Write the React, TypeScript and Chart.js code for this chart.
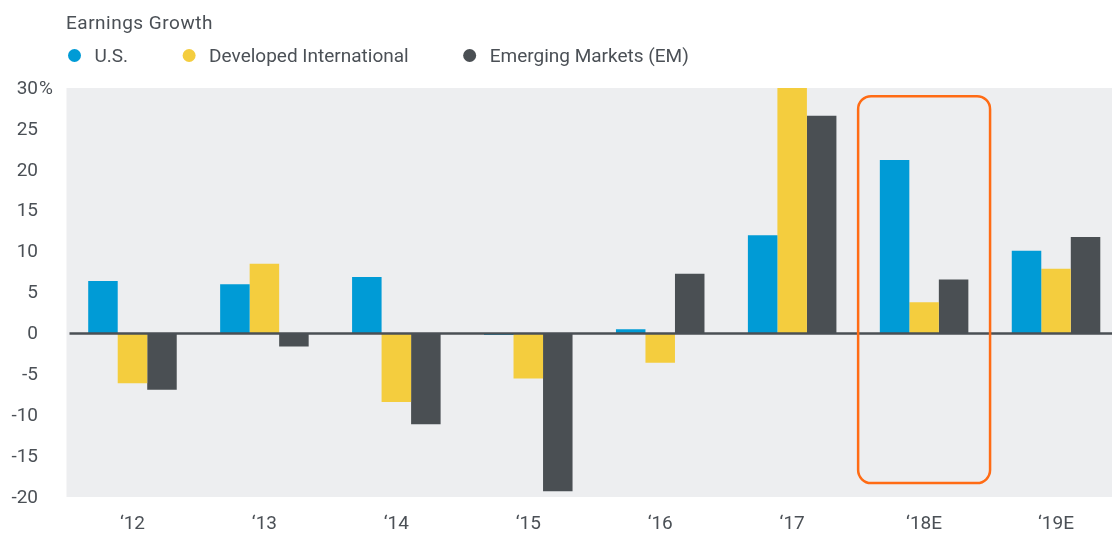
import React, { useEffect, useRef } from "react";
import { Chart, registerables } from "chart.js";

Chart.register(...registerables);

// ---- Data ----
const categories = ["‘12", "‘13", "‘14", "‘15", "‘16", "‘17", "‘18E", "‘19E"];
const usGrowth = [6.4, 6.0, 6.9, -0.2, 0.5, 12.0, 21.2, 10.1];
const devIntlGrowth = [-6.1, 8.5, -8.4, -5.5, -3.6, 30.0, 3.8, 7.9];
const emGrowth = [-6.9, -1.6, -11.1, -19.3, 7.3, 26.6, 6.6, 11.8];
const seriesNames = ["U.S.", "Developed International", "Emerging Markets (EM)"];
const seriesColors = ["#009bd6", "#f4cd3e", "#4a4f53"];
const yTickValues = [30, 25, 20, 15, 10, 5, 0, -5, -10, -15, -20];
const chartTitle = "Earnings Growth";
const highlightCategory = "‘18E";
const highlightRange = [29, -18.3];

const FONT = "Roboto, 'Noto Sans', sans-serif";
const TEXT = "#4b5056";

const decorPlugin = {
  id: "decor",
  beforeDraw(chart: any) {
    const { ctx, chartArea: a } = chart;
    ctx.save();
    ctx.fillStyle = "#edeef0";
    ctx.fillRect(a.left, a.top, a.right - a.left, a.bottom - a.top);
    ctx.restore();
  },
  afterDatasetsDraw(chart: any) {
    const { ctx, chartArea: a } = chart;
    const xs = chart.scales.x;
    const ys = chart.scales.y;
    ctx.save();
    // zero line
    const y0 = ys.getPixelForValue(0);
    ctx.strokeStyle = "#4a4f54";
    ctx.lineWidth = 2.5;
    ctx.beginPath();
    ctx.moveTo(a.left + 3, y0);
    ctx.lineTo(a.right, y0);
    ctx.stroke();
    // highlight box
    const idx = categories.indexOf(highlightCategory);
    const cx = xs.getPixelForValue(idx);
    const half = xs.width / categories.length / 2;
    const top = ys.getPixelForValue(highlightRange[0]);
    const bottom = ys.getPixelForValue(highlightRange[1]);
    ctx.strokeStyle = "#ff6b14";
    ctx.lineWidth = 2.5;
    ctx.beginPath();
    (ctx as any).roundRect(cx - half, top, half * 2, bottom - top, 13);
    ctx.stroke();
    ctx.restore();
  },
  afterDraw(chart: any) {
    const { ctx } = chart;
    const ys = chart.scales.y;
    ctx.save();
    ctx.fillStyle = TEXT;
    // y tick labels
    ctx.font = `19px ${FONT}`;
    ctx.textBaseline = "middle";
    const maxV = Math.max(...yTickValues);
    yTickValues.forEach((v) => {
      const py = ys.getPixelForValue(v) + 1;
      ctx.textAlign = "right";
      ctx.fillText(String(v), 38, py);
      if (v === maxV) {
        ctx.textAlign = "left";
        ctx.fillText("%", 39, py);
      }
    });
    // title
    ctx.textAlign = "left";
    ctx.textBaseline = "alphabetic";
    ctx.font = `19px ${FONT}`;
    (ctx as any).letterSpacing = "0.5px";
    ctx.fillText(chartTitle, 66, 28.5);
    (ctx as any).letterSpacing = "0px";
    // legend
    let x = 74.5;
    seriesNames.forEach((name, i) => {
      ctx.fillStyle = seriesColors[i];
      ctx.beginPath();
      ctx.arc(x, 55.5, 6.5, 0, Math.PI * 2);
      ctx.fill();
      ctx.fillStyle = TEXT;
      const tx = x + 20;
      ctx.fillText(name, tx, 62);
      x = tx + ctx.measureText(name).width + 61;
    });
    ctx.restore();
  },
};

export default function App() {
  const ref = useRef<HTMLCanvasElement | null>(null);

  useEffect(() => {
    if (!ref.current) return;
    const chart = new Chart(ref.current, {
      type: "bar",
      data: {
        labels: categories,
        datasets: [usGrowth, devIntlGrowth, emGrowth].map((d, i) => ({
          label: seriesNames[i],
          data: d,
          backgroundColor: seriesColors[i],
          borderWidth: 0,
          categoryPercentage: 0.671,
          barPercentage: 1,
        })),
      },
      options: {
        responsive: false,
        animation: false,
        layout: { padding: { top: 88, right: 2, left: 0, bottom: 0 } },
        plugins: {
          legend: { display: false },
          title: { display: false },
          tooltip: { enabled: false },
        },
        scales: {
          x: {
            grid: { display: false, drawTicks: false },
            border: { display: false },
            ticks: { color: TEXT, font: { family: FONT, size: 19 }, padding: 16 },
            afterFit: (s: any) => {
              s.height = 36;
            },
          },
          y: {
            min: -20,
            max: 30,
            ticks: { display: false, stepSize: 5 },
            grid: { display: false, drawTicks: false },
            border: { display: false },
            afterFit: (s: any) => {
              s.width = 66.5;
            },
          },
        },
      } as any,
      plugins: [decorPlugin],
    });
    return () => chart.destroy();
  }, []);

  return (
    <div
      style={{
        position: "fixed",
        left: 0,
        top: 0,
        width: 1112,
        height: 533,
        overflow: "hidden",
        background: "#fff",
      }}
    >
      <canvas ref={ref} width={1124} height={533} style={{ display: "block" }} />
    </div>
  );
}
